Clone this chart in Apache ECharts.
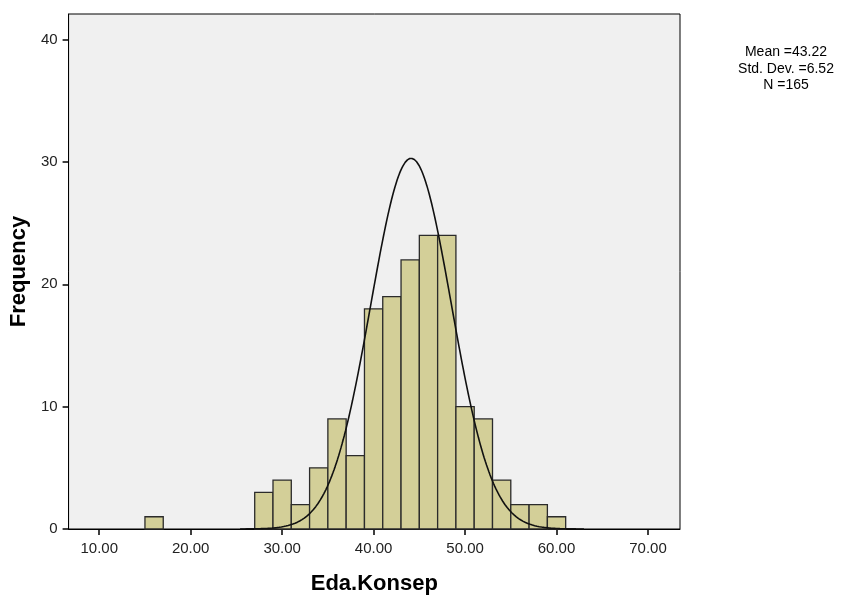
<!DOCTYPE html>
<html>
<head>
<meta charset="utf-8">
<script src="https://cdn.jsdelivr.net/npm/echarts@6/dist/echarts.min.js"></script>
<style>html,body{margin:0;padding:0;background:#fff}#c{width:846px;height:600px}</style>
</head>
<body>
<div id="c"></div>
<script>
// Histogram bins (start, end) and frequencies
var binStarts = [15, 27, 29, 31, 33, 35, 37, 39, 41, 43, 45, 47, 49, 51, 53, 55, 57, 59];
var binWidth = 2;
var counts    = [1, 3, 4, 2, 5, 9, 6, 18, 19, 22, 24, 24, 10, 9, 4, 2, 2, 1];
var xTicks = [10, 20, 30, 40, 50, 60, 70];
var yTicks = [0, 10, 20, 30, 40];
var statsText = ['Mean =43.22', 'Std. Dev. =6.52', 'N =165'];
// Normal curve as drawn (parameters)
var curveCenter = 44.1, curveSd = 4.4, curvePeak = 30.3, curveFrom = 25.4, curveTo = 63;

var barData = binStarts.map(function (s, i) { return [s, s + binWidth, counts[i]]; });
var curveData = [];
for (var k = 0; k <= 300; k++) {
  var x = curveFrom + (curveTo - curveFrom) * k / 300;
  var d = (x - curveCenter) / curveSd;
  curveData.push([x, curvePeak * Math.exp(-0.5 * d * d)]);
}

var chart = echarts.init(document.getElementById('c'));
var font = 'Liberation Sans, Arial, sans-serif';
chart.setOption({
  animation: false,
  backgroundColor: '#ffffff',
  grid: { left: 68, right: 166, top: 14, bottom: 70, show: true, backgroundColor: '#f0f0f0', borderColor: '#000', borderWidth: 1 },
  xAxis: {
    type: 'value', min: 6.65, max: 73.5,
    name: 'Eda.Konsep', nameLocation: 'middle', nameGap: 44,
    nameTextStyle: { fontFamily: font, fontSize: 22, fontWeight: 'bold', color: '#000' },
    axisLine: { show: true, lineStyle: { color: '#000', width: 1 } },
    axisTick: { show: true, length: 6, customValues: xTicks, lineStyle: { color: '#000', width: 1.5 } },
    axisLabel: { customValues: xTicks, margin: 12, fontFamily: font, fontSize: 15, color: '#222',
      formatter: function (v) { return v.toFixed(2); } },
    splitLine: { show: false }
  },
  yAxis: {
    type: 'value', min: 0, max: 42.1,
    name: 'Frequency', nameLocation: 'middle', nameGap: 35,
    nameTextStyle: { fontFamily: font, fontSize: 22, fontWeight: 'bold', color: '#000' },
    axisLine: { show: true, lineStyle: { color: '#000', width: 1 } },
    axisTick: { show: true, length: 6, customValues: yTicks, lineStyle: { color: '#000', width: 1.5 } },
    axisLabel: { customValues: yTicks, margin: 11, fontFamily: font, fontSize: 15, color: '#222' },
    splitLine: { show: false }
  },
  graphic: [{
    type: 'text', x: 786, y: 44,
    style: { text: statsText.join('\n'), align: 'center', textAlign: 'center', fontFamily: font, fontSize: 14, lineHeight: 16.5, fill: '#000' }
  }],
  series: [{
    type: 'custom',
    data: barData,
    encode: { x: [0, 1], y: 2 },
    renderItem: function (params, api) {
      var p0 = api.coord([api.value(0), api.value(2)]);
      var p1 = api.coord([api.value(1), 0]);
      return {
        type: 'rect',
        shape: { x: p0[0], y: p0[1], width: p1[0] - p0[0], height: p1[1] - p0[1] },
        style: { fill: '#d3cf98', stroke: '#2b2b2b', lineWidth: 1.3 }
      };
    }
  }, {
    type: 'line', data: curveData, showSymbol: false, symbol: 'none', smooth: false,
    lineStyle: { color: '#111', width: 1.6 }, z: 5
  }]
});
</script>
</body>
</html>
